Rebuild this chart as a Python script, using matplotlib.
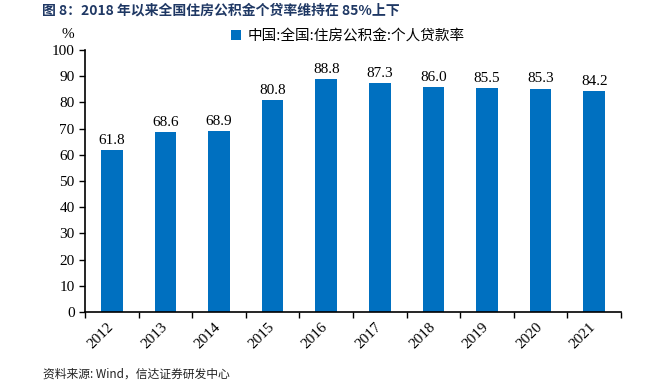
import matplotlib.pyplot as plt
import numpy as np

years = ['2012', '2013', '2014', '2015', '2016', '2017', '2018', '2019', '2020', '2021']
rates = [61.8, 68.6, 68.9, 80.8, 88.8, 87.3, 86.0, 85.5, 85.3, 84.2]
yticks = list(range(0, 101, 10))

cjk = ['Noto Sans CJK SC', 'DejaVu Sans']
serif = ['Liberation Serif', 'DejaVu Serif']

fig = plt.figure(figsize=(6.61, 3.9), dpi=100)
ax = fig.add_axes([0.1286, 0.2, 0.8109, 0.6718])

x = np.arange(len(years))
bars = ax.bar(x, rates, width=0.4, color='#0070C0', label='中国:全国:住房公积金:个人贷款率')
for xi, v in zip(x, rates):
    ax.text(xi, v + 1.2, f'{v:.1f}', ha='center', va='bottom', fontsize=11, family=serif)

ax.set_xlim(-0.5, len(years) - 0.5)
ax.set_ylim(0, 100)
ax.set_yticks(yticks)
ax.set_yticklabels([str(t) for t in yticks], family=serif, fontsize=11)
ax.set_xticks(x + 0.08)
ax.set_xticklabels(years, rotation=45, ha='right', family=serif, fontsize=11)
ax.tick_params(axis='x', which='major', length=0, pad=6)
ax.set_xticks(np.arange(-0.5, len(years)), minor=True)
ax.tick_params(axis='x', which='minor', length=4, width=1, direction='out')
ax.tick_params(axis='y', length=4, width=1, direction='out')
for s in ['top', 'right']:
    ax.spines[s].set_visible(False)
ax.spines['left'].set_linewidth(1.2)
ax.spines['bottom'].set_linewidth(1.2)

ax.text(-0.02, 1.035, '%', transform=ax.transAxes, ha='right', va='bottom', family=serif, fontsize=11)

leg = ax.legend(loc='upper center', bbox_to_anchor=(0.49, 1.13), frameon=False,
                prop={'family': cjk, 'size': 10.5}, handlelength=0.7, handleheight=0.7,
                handletextpad=0.4)

fig.text(0.063, 0.972, '图 8：2018 年以来全国住房公积金个贷率维持在 85%上下', family=cjk,
         fontsize=10, fontweight='bold', color='#1F3864', va='center')
fig.text(0.065, 0.04, '资料来源: Wind，信达证券研发中心', family=cjk, fontsize=8.5,
         style='italic', color='#222222', va='center')

fig.savefig('out.png', dpi=100)
